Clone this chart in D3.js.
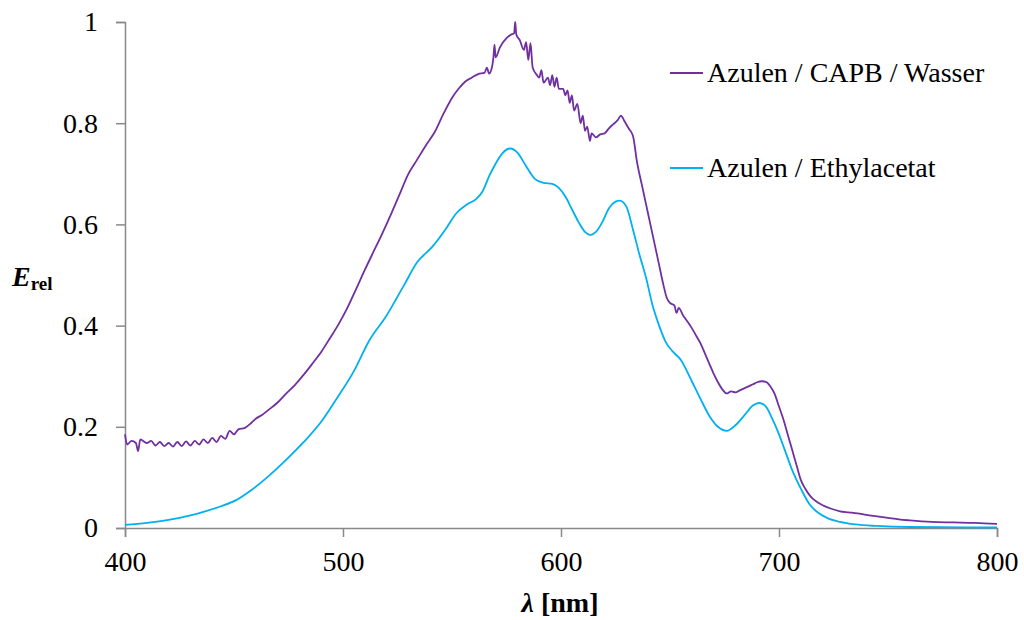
<!DOCTYPE html>
<html><head><meta charset="utf-8">
<script src="https://cdn.jsdelivr.net/npm/d3@7"></script>
</head><body style="margin:0">
<svg id="c" width="1024" height="620" font-family="Liberation Serif" font-size="28"></svg>
<script>
// ---- data ----
const xTicks = [400, 500, 600, 700, 800];
const yTicks = [0, 0.2, 0.4, 0.6, 0.8, 1];
const yTickLabels = ["0", "0.2", "0.4", "0.6", "0.8", "1"];
const seriesNames = ["Azulen / CAPB / Wasser", "Azulen / Ethylacetat"];

const capbNm = [400,401,403,405,406,407,410,412,414,416,418,420,422,424,426,428,430,432,434,436,438,440,442,444,446,448,450,452,455,458,460,463,466,470,474,478,482,486,490,494,498,502,506,510,514,518,522,526,530,534,538,542,546,550,553,556,559,562,565,566,567,568,569,569.5,570,572,575,577,578.5,579,579.5,581,583,584,585,586,587,589,590,591,592,594,595,596,597,598,599,601,602,603,604,605,606,607.5,609,610,611,612,613.3,614,616,618,620,622,624,626,627.5,629,631,633,635,637,639,641,643,645,647,648.5,650,652,653,654,656,658,660,662,664,666,668,670,672,674,676,678,680,682,684,686,688,690,692,694,696,698,700,702,704,706,708,710,712,714,716,718,720,724,728,732,736,740,745,750,755,760,770,780,790,800];
const capbVal = [0.185,0.165,0.172,0.168,0.152,0.175,0.168,0.172,0.163,0.170,0.162,0.168,0.161,0.170,0.162,0.171,0.163,0.172,0.165,0.175,0.168,0.178,0.170,0.182,0.176,0.192,0.185,0.195,0.198,0.208,0.216,0.224,0.234,0.248,0.266,0.283,0.303,0.325,0.348,0.375,0.403,0.435,0.472,0.510,0.546,0.582,0.620,0.660,0.700,0.728,0.756,0.782,0.818,0.850,0.868,0.882,0.890,0.897,0.900,0.910,0.898,0.905,0.930,0.955,0.930,0.950,0.968,0.975,0.978,1.000,0.975,0.965,0.945,0.960,0.925,0.958,0.910,0.895,0.890,0.905,0.880,0.890,0.875,0.895,0.872,0.890,0.868,0.868,0.855,0.865,0.840,0.855,0.825,0.838,0.800,0.815,0.785,0.793,0.765,0.780,0.772,0.778,0.780,0.790,0.798,0.806,0.815,0.805,0.790,0.775,0.720,0.680,0.640,0.600,0.560,0.520,0.480,0.455,0.445,0.440,0.425,0.435,0.420,0.408,0.395,0.380,0.365,0.345,0.325,0.305,0.288,0.274,0.266,0.270,0.268,0.272,0.276,0.280,0.284,0.288,0.290,0.289,0.280,0.265,0.240,0.215,0.185,0.155,0.125,0.095,0.078,0.065,0.056,0.050,0.045,0.038,0.033,0.031,0.029,0.026,0.023,0.020,0.017,0.015,0.012,0.011,0.010,0.008];

const ethylNm = [400,410,420,430,436,444,451,458,466,474,482,490,497,505,512,520,528,534,541,547,552,557,561,564,567,570,573,576.6,580,584,588,592,596,599,602,605,608,611,613.5,616,619,622,625,627,630,633,636,639,642,645,648,651,655,660,664,668,672,676,680,684,688,691,694,697,700,703,706,710,714,718,722,728,735,745,760,800];
const ethylVal = [0.006,0.010,0.016,0.025,0.032,0.043,0.055,0.075,0.103,0.135,0.170,0.210,0.255,0.310,0.370,0.420,0.480,0.525,0.556,0.590,0.622,0.640,0.650,0.665,0.695,0.720,0.740,0.750,0.742,0.715,0.690,0.682,0.680,0.672,0.655,0.630,0.605,0.585,0.579,0.585,0.605,0.632,0.645,0.647,0.635,0.590,0.540,0.495,0.440,0.400,0.368,0.350,0.332,0.290,0.255,0.222,0.200,0.192,0.203,0.222,0.242,0.247,0.240,0.215,0.185,0.150,0.115,0.078,0.047,0.030,0.020,0.012,0.007,0.004,0.002,0.001];

const colors = ["#7030A0", "#00B0F0"];

// ---- chart ----
const svg = d3.select("#c");
const x = d3.scaleLinear().domain([400, 800]).range([125, 997]);
const y = d3.scaleLinear().domain([0, 1]).range([528, 22]);
const axisColor = "#898989";

const series = [
  capbNm.map((n, i) => [n, capbVal[i]]),
  ethylNm.map((n, i) => [n, ethylVal[i]])
];
const line = d3.line().x(d => x(d[0])).y(d => y(d[1])).curve(d3.curveMonotoneX);

function styleAxis(g) {
  g.attr("font-family", "Liberation Serif").attr("font-size", 28);
  g.select(".domain").attr("stroke", axisColor).attr("stroke-width", 1.5);
  g.selectAll(".tick line").attr("stroke", axisColor).attr("stroke-width", 1.5);
  g.selectAll("text").attr("font-family", "Liberation Serif").attr("font-size", 28).attr("fill", "#000");
}

const yAxis = svg.append("g").attr("transform", "translate(125,0)")
  .call(d3.axisLeft(y).tickValues(yTicks).tickFormat((d, i) => yTickLabels[i]).tickSize(9).tickPadding(18));
styleAxis(yAxis);

const xAxis = svg.append("g").attr("transform", "translate(0,528)")
  .call(d3.axisBottom(x).tickValues(xTicks).tickFormat(d3.format("d")).tickSize(9).tickPadding(14));
styleAxis(xAxis);

svg.append("path").datum(series[1]).attr("d", line)
  .attr("fill", "none").attr("stroke", colors[1]).attr("stroke-width", 1.8).attr("stroke-linejoin", "round");
svg.append("path").datum(series[0]).attr("d", line)
  .attr("fill", "none").attr("stroke", colors[0]).attr("stroke-width", 1.8).attr("stroke-linejoin", "round");

const legY = [73, 168];
seriesNames.forEach((name, i) => {
  svg.append("line").attr("x1", 670).attr("x2", 703).attr("y1", legY[i]).attr("y2", legY[i])
    .attr("stroke", colors[i]).attr("stroke-width", 2);
  svg.append("text").attr("x", 707).attr("y", legY[i] + 9)
    .attr("font-family", "Liberation Serif").attr("font-size", 28).text(name);
});

const yt = svg.append("text").attr("x", 12).attr("y", 286)
  .attr("font-family", "Liberation Serif").attr("font-size", 28).attr("font-weight", "bold");
yt.append("tspan").attr("font-style", "italic").text("E");
yt.append("tspan").attr("font-size", 19).attr("dy", 4).text("rel");

const xt = svg.append("text").attr("x", 560).attr("y", 612).attr("text-anchor", "middle")
  .attr("font-family", "Liberation Serif").attr("font-size", 28).attr("font-weight", "bold");
xt.append("tspan").attr("font-style", "italic").text("λ");
xt.append("tspan").text(" [nm]");
</script>
</body></html>
